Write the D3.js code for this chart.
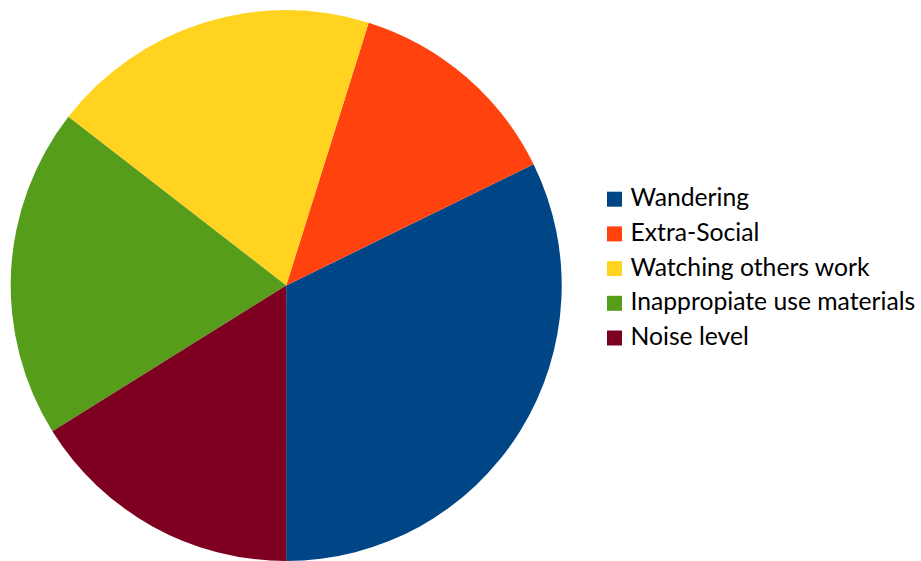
<!DOCTYPE html>
<html><head><meta charset="utf-8">
<script src="https://cdn.jsdelivr.net/npm/d3@7"></script>
<style>html,body{margin:0;padding:0;background:#fff;}svg{display:block;}</style>
</head><body>
<svg id="chart" width="921" height="561"></svg>
<script>
const categories = ["Wandering", "Extra-Social", "Watching others work", "Inappropiate use materials", "Noise level"];
const values = [10, 4, 6, 6, 5];
const colors = ["#004586", "#ff420e", "#ffd320", "#579d1c", "#7e0021"];

const svg = d3.select("#chart");
const cx = 286.2, cy = 285.5, r = 275.5;

const data = categories.map((c, i) => ({name: c, value: values[i], color: colors[i]}));
const pie = d3.pie().value(d => d.value).sort(null).startAngle(Math.PI).endAngle(-Math.PI);
const arc = d3.arc().innerRadius(0).outerRadius(r);

svg.append("g").attr("transform", `translate(${cx},${cy})`)
  .selectAll("path").data(pie(data)).join("path")
  .attr("d", arc).attr("fill", d => d.data.color);

const y = d3.scalePoint().domain(categories).range([199.2, 338]);
const leg = svg.append("g").selectAll("g").data(data).join("g")
  .attr("transform", d => `translate(607,${y(d.name)})`);
leg.append("rect").attr("x", 0).attr("y", -7.5).attr("width", 15).attr("height", 15).attr("fill", d => d.color);
leg.append("text").attr("x", 23.5).attr("y", 7)
  .attr("font-family", "Lato, sans-serif").attr("font-size", 24.7).attr("fill", "#000")
  .text(d => d.name);
</script>
</body></html>
